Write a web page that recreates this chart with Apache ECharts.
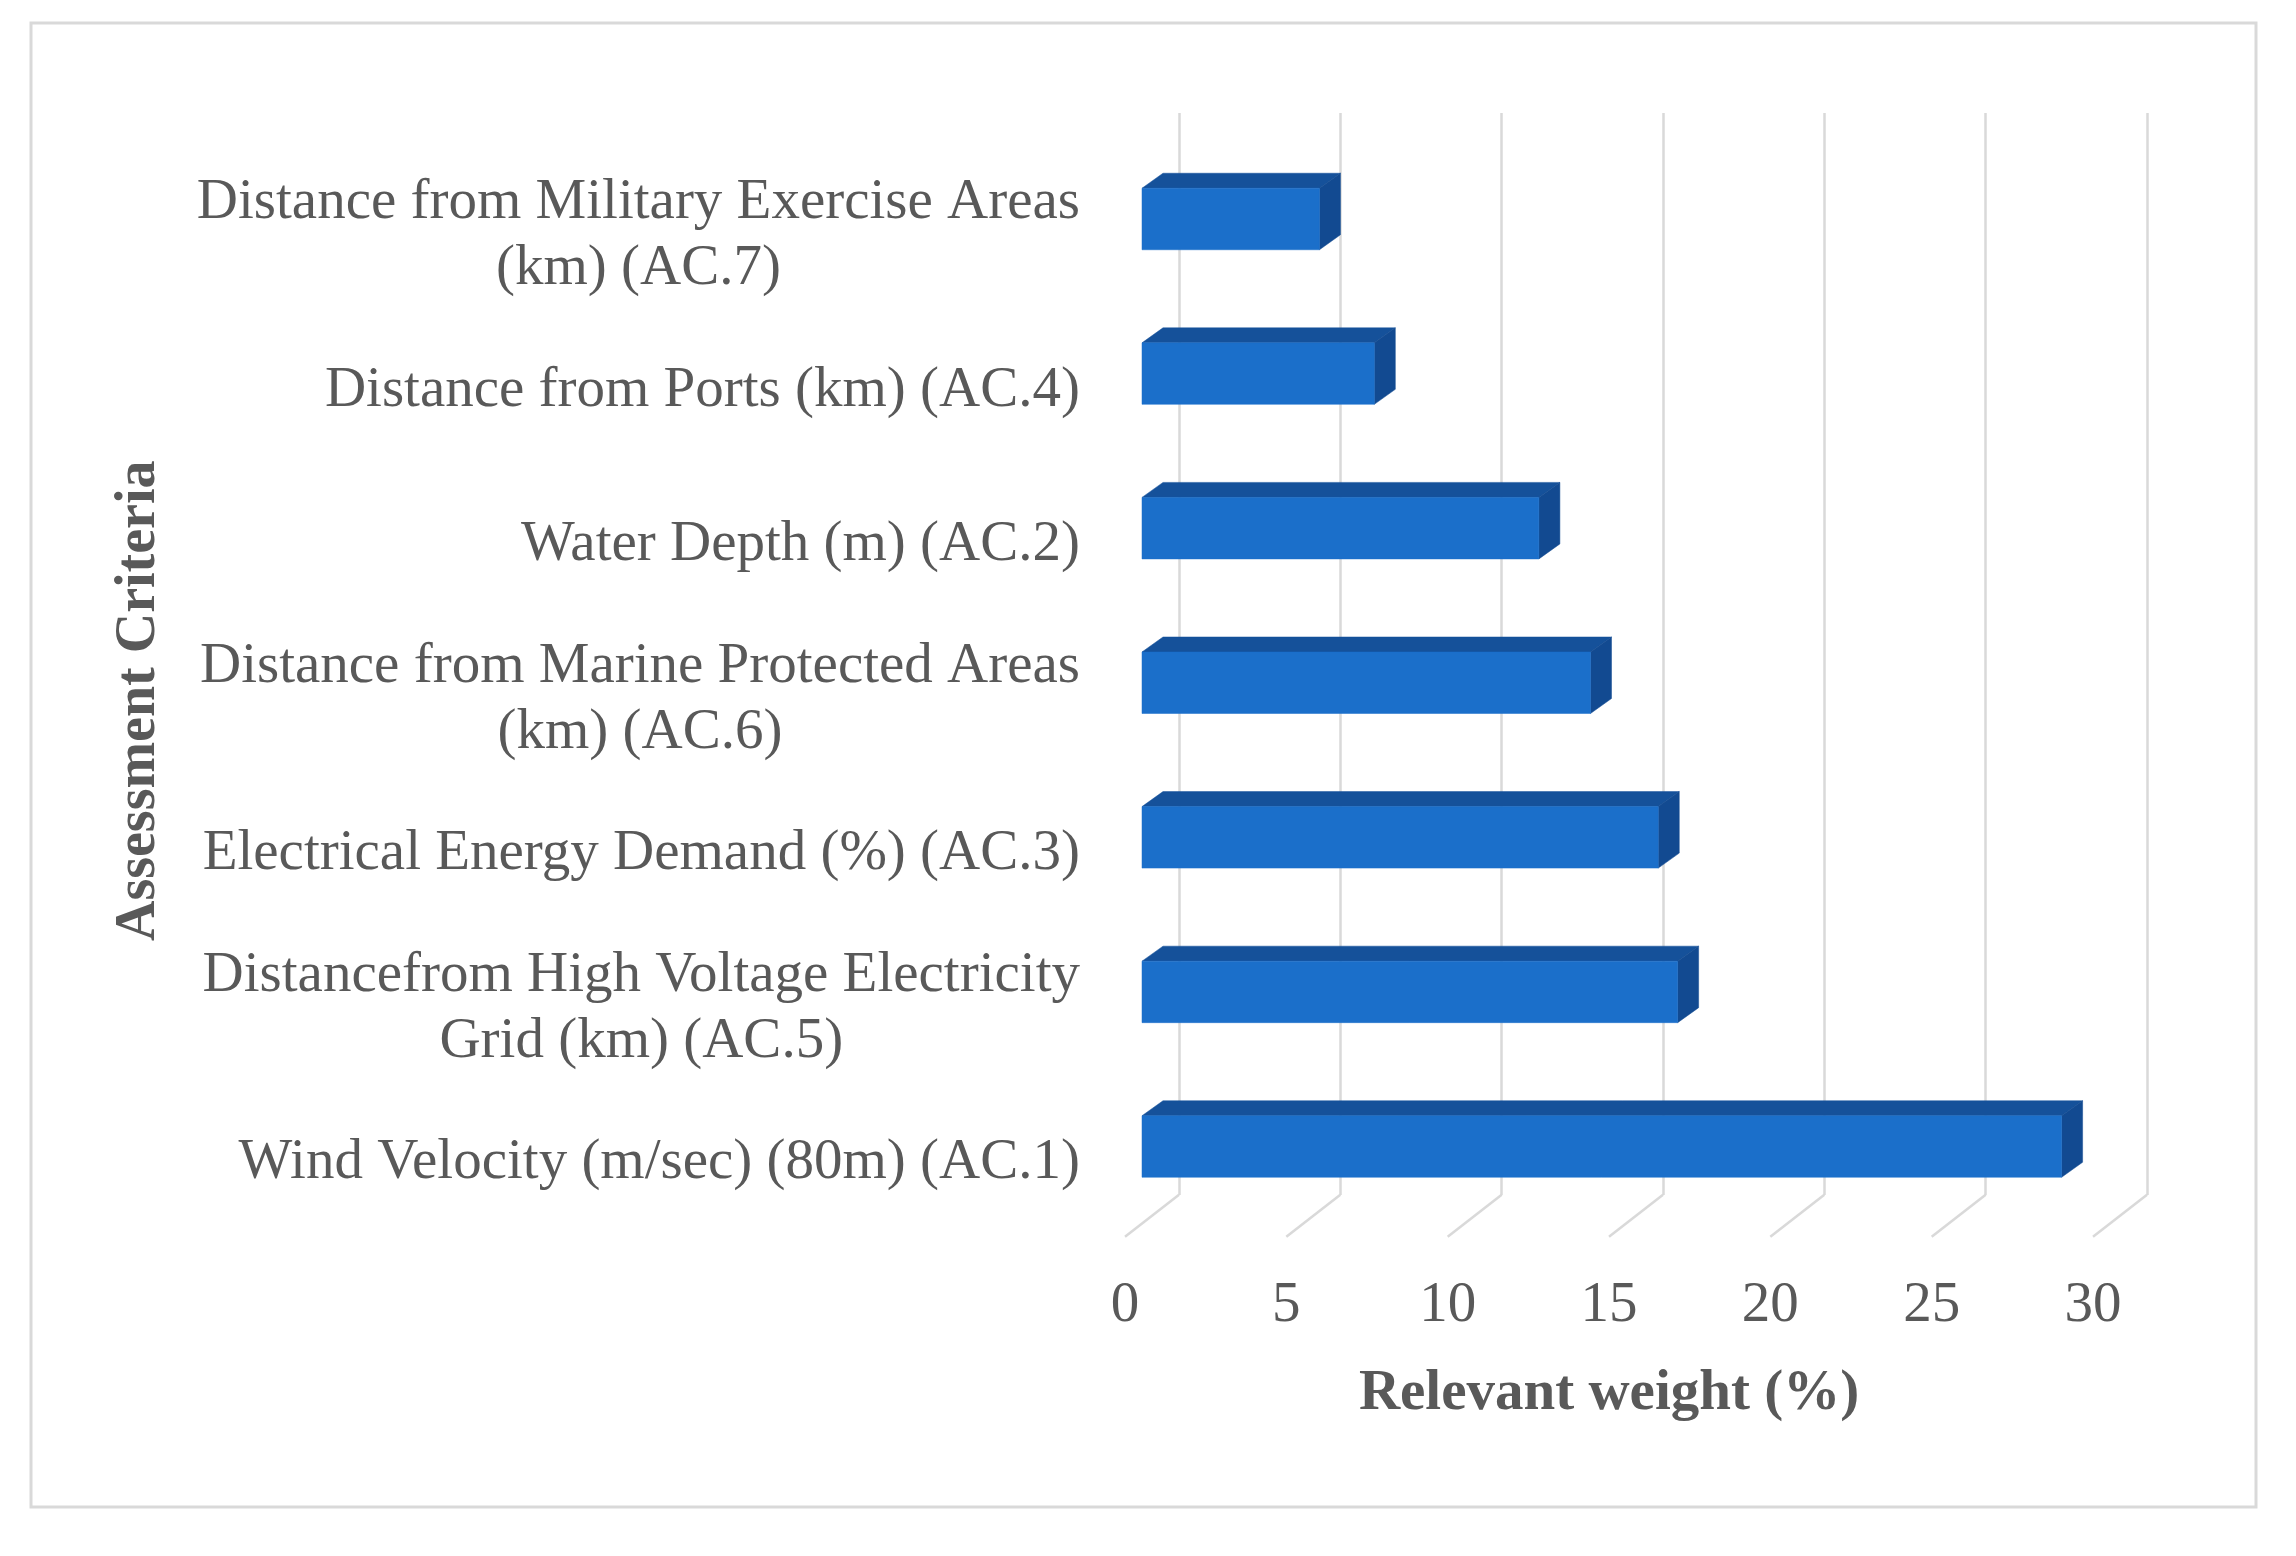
<!DOCTYPE html>
<html>
<head>
<meta charset="utf-8">
<style>html,body{margin:0;padding:0;background:#fff;}#chart{width:2296px;height:1556px;}</style>
<script src="https://cdn.jsdelivr.net/npm/echarts@6/dist/echarts.min.js"></script>
</head>
<body>
<div id="chart"></div>
<script>
// Categories listed bottom to top
const categories = [
  'Wind Velocity (m/sec) (80m) (AC.1)',
  'Distancefrom High Voltage Electricity\nGrid (km) (AC.5)',
  'Electrical Energy Demand (%) (AC.3)',
  'Distance from Marine Protected Areas\n(km) (AC.6)',
  'Water Depth (m) (AC.2)',
  'Distance from Ports (km) (AC.4)',
  'Distance from Military Exercise Areas\n(km) (AC.7)'
];
const weights = [28.5, 16.6, 16.0, 13.9, 12.3, 7.2, 5.5];
const xTicks = [0, 5, 10, 15, 20, 25, 30];
const xAxisTitle = 'Relevant weight (%)';
const yAxisTitle = 'Assessment Criteria';

const FONT = "'Liberation Serif', 'Times New Roman', serif";
const TXT = '#595959';
const GRIDC = '#d9d9d9';
const DX = 21, DY = 15;          // bar depth offset
const FRONT_DX = -17, FRONT_DY = 13;  // floor front edge offset from bar plane
const BACK_DX = 37, BACK_DY = -29;    // back wall offset from bar plane

const chart = echarts.init(document.getElementById('chart'), null, {renderer: 'canvas'});

const option = {
  backgroundColor: '#ffffff',
  animation: false,
  graphic: [{
    type: 'rect', z: -10, silent: true,
    shape: {x: 31, y: 23, width: 2225, height: 1484},
    style: {fill: 'none', stroke: GRIDC, lineWidth: 3}
  }],
  grid: [
    {left: 1142, right: 186, top: 141.7, bottom: 332.2},   // bar front-face plane
    {left: 1125, right: 203, top: 1000, bottom: 319},      // floor front edge (tick labels)
    {left: 1179, right: 149, top: 113, bottom: 361}        // back wall (gridlines)
  ],
  xAxis: [
    {gridIndex: 0, type: 'value', min: 0, max: 30, interval: 5, show: false},
    {gridIndex: 1, type: 'value', min: 0, max: 30, interval: 5,
      axisLine: {show: false}, axisTick: {show: false}, splitLine: {show: false},
      axisLabel: {margin: 41, color: TXT, fontFamily: FONT, fontSize: 57,
        formatter: function (v) { return xTicks.indexOf(v) >= 0 ? String(v) : ''; }},
      name: xAxisTitle, nameLocation: 'middle', nameGap: 129,
      nameTextStyle: {color: '#595959', fontFamily: FONT, fontSize: 57, fontWeight: 'bold'}
    },
    {gridIndex: 2, type: 'value', min: 0, max: 30, interval: 5,
      axisLine: {show: false}, axisTick: {show: false}, axisLabel: {show: false},
      splitLine: {show: true, lineStyle: {color: GRIDC, width: 2.5}}
    }
  ],
  yAxis: [
    {gridIndex: 0, type: 'category', data: categories,
      axisLine: {show: false}, axisTick: {show: false}, splitLine: {show: false},
      axisLabel: {
        margin: 62, color: TXT, fontFamily: FONT, fontSize: 57, lineHeight: 66,
        padding: [34, 0, 0, 0],
        formatter: function (v) {
          return v.split('\n').map(function (s) { return '{c|' + s + '}'; }).join('\n');
        },
        rich: {c: {align: 'center', color: TXT, fontFamily: FONT, fontSize: 57, lineHeight: 66}}
      },
      name: yAxisTitle, nameLocation: 'middle', nameRotate: 90, nameGap: 974,
      nameTextStyle: {color: '#595959', fontFamily: FONT, fontSize: 56, fontWeight: 'bold', padding: [0, 36, 0, 0]}
    },
    {gridIndex: 1, type: 'value', min: 0, max: 1, show: false},
    {gridIndex: 2, type: 'value', min: 0, max: 1, show: false}
  ],
  series: [
    {
      // floor diagonal gridlines (front edge to back wall)
      type: 'custom', xAxisIndex: 0, yAxisIndex: 0, z: 1, silent: true,
      data: xTicks.map(function (t) { return [t, 0]; }),
      renderItem: function (params, api) {
        const p = api.coord([api.value(0), 0]);
        const bottom = params.coordSys.y + params.coordSys.height;
        return {
          type: 'line',
          shape: {x1: p[0] + FRONT_DX, y1: bottom + FRONT_DY, x2: p[0] + BACK_DX, y2: bottom + BACK_DY},
          style: {stroke: GRIDC, lineWidth: 2.5}
        };
      }
    },
    {
      // 3D bars
      type: 'custom', xAxisIndex: 0, yAxisIndex: 0, z: 5,
      data: weights.map(function (w, i) { return [w, i]; }),
      encode: {x: 0, y: 1},
      renderItem: function (params, api) {
        const v = api.value(0), c = api.value(1);
        const p0 = api.coord([0, c]);
        const p1 = api.coord([v, c]);
        const h = api.size([0, 1])[1] * 0.398;
        const x0 = p0[0], x1 = p1[0];
        const yT = p0[1] - h / 2, yB = p0[1] + h / 2;
        return {
          type: 'group',
          children: [
            {type: 'polygon', shape: {points: [[x0, yT], [x1, yT], [x1 + DX, yT - DY], [x0 + DX, yT - DY]]},
              style: {fill: '#15519a', stroke: '#15519a', lineWidth: 0.5}},
            {type: 'polygon', shape: {points: [[x1, yT], [x1 + DX, yT - DY], [x1 + DX, yB - DY], [x1, yB]]},
              style: {fill: '#124a91', stroke: '#124a91', lineWidth: 0.5}},
            {type: 'rect', shape: {x: x0, y: yT, width: x1 - x0, height: h},
              style: {fill: '#1b6fca', stroke: '#1b6fca', lineWidth: 0.5}}
          ]
        };
      }
    }
  ]
};
chart.setOption(option);
</script>
</body>
</html>
